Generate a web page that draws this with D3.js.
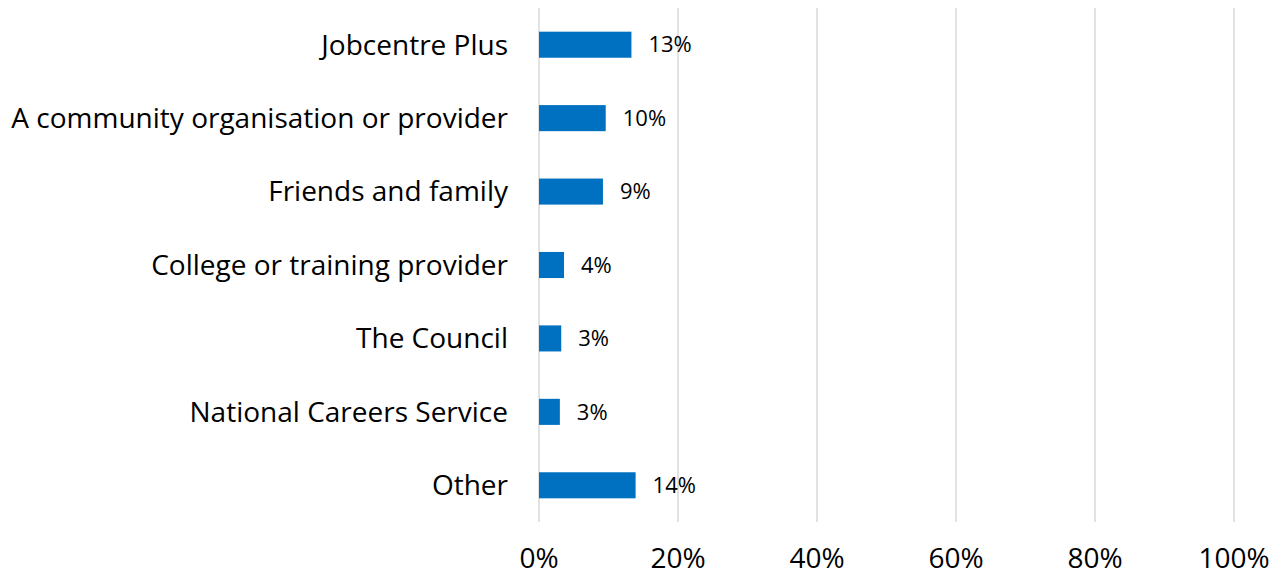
<!DOCTYPE html>
<html>
<head>
<meta charset="utf-8">
<script src="https://d3js.org/d3.v7.min.js"></script>
<style>
  body { margin: 0; background: #fff; }
  svg text { font-family: "Open Sans", "Noto Sans", sans-serif; fill: #000; }
</style>
</head>
<body>
<div id="chart"></div>
<script>
var categories = ['Jobcentre Plus', 'A community organisation or provider', 'Friends and family',
    'College or training provider', 'The Council', 'National Careers Service', 'Other'];
var values = [13.3, 9.6, 9.2, 3.6, 3.2, 3.0, 13.9];
var valueLabels = ['13%', '10%', '9%', '4%', '3%', '3%', '14%'];
var ticks = [0, 20, 40, 60, 80, 100];

var width = 1270, height = 575;
var margin = { top: 8, right: 36, bottom: 53, left: 539 };

var svg = d3.select('#chart').append('svg')
    .attr('width', width)
    .attr('height', height);

var x = d3.scaleLinear()
    .domain([0, 100])
    .range([margin.left, 1234]);

var y = d3.scaleBand()
    .domain(categories)
    .range([margin.top, height - margin.bottom])
    .paddingInner(0.645)
    .paddingOuter(0.3225);

// gridlines
svg.append('g')
    .selectAll('line')
    .data(ticks)
    .join('line')
    .attr('x1', function(d) { return x(d); })
    .attr('x2', function(d) { return x(d); })
    .attr('y1', margin.top)
    .attr('y2', height - margin.bottom)
    .attr('stroke', '#d9d9d9')
    .attr('stroke-width', 1.5);

// x tick labels (sit right at the bottom edge, as in the original)
svg.append('g')
    .selectAll('text')
    .data(ticks)
    .join('text')
    .attr('x', function(d) { return x(d); })
    .attr('y', 568)
    .attr('text-anchor', 'middle')
    .style('font-size', '28px')
    .text(function(d) { return d + '%'; });

// bars
svg.append('g')
    .selectAll('rect')
    .data(values)
    .join('rect')
    .attr('x', x(0))
    .attr('y', function(d, i) { return y(categories[i]); })
    .attr('width', function(d) { return x(d) - x(0); })
    .attr('height', y.bandwidth())
    .attr('fill', '#0070c0');

// value labels
svg.append('g')
    .selectAll('text')
    .data(values)
    .join('text')
    .attr('x', function(d) { return x(d) + 17; })
    .attr('y', function(d, i) { return y(categories[i]) + y.bandwidth() / 2; })
    .attr('dy', '0.35em')
    .style('font-size', '22px')
    .text(function(d, i) { return valueLabels[i]; });

// category labels
svg.append('g')
    .selectAll('text')
    .data(categories)
    .join('text')
    .attr('x', 508)
    .attr('y', function(d) { return y(d) + y.bandwidth() / 2; })
    .attr('dy', '0.35em')
    .attr('text-anchor', 'end')
    .style('font-size', '28px')
    .text(function(d) { return d; });
</script>
</body>
</html>
